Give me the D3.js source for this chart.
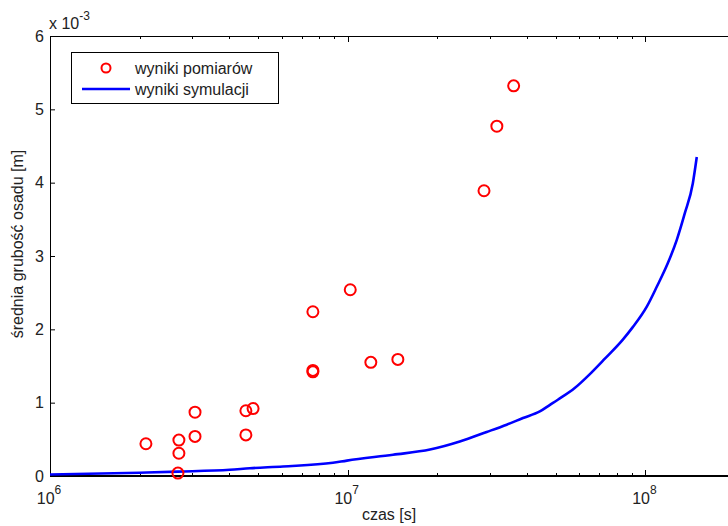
<!DOCTYPE html>
<html>
<head>
<meta charset="utf-8">
<script src="https://cdn.jsdelivr.net/npm/d3@7"></script>
<style>
  body { margin: 0; background: #fff; }
  svg { display: block; font-family: "Liberation Sans", Arial, sans-serif; }
</style>
</head>
<body>
<div id="chart"></div>
<script>
// measured points (time in s, thickness in units of 1e-3 m)
const measTime = [2.10e6, 2.71e6, 2.71e6, 2.69e6, 3.07e6, 3.07e6, 4.55e6, 4.81e6, 4.55e6,
  7.64e6, 7.64e6, 7.64e6, 1.02e7, 1.196e7, 1.474e7, 2.87e7, 3.17e7, 3.61e7];
const measValue = [0.44, 0.49, 0.31, 0.04, 0.87, 0.54, 0.89, 0.92, 0.56,
  2.24, 1.42, 1.44, 2.54, 1.55, 1.59, 3.89, 4.77, 5.32];

// simulation curve
const simTime = [1e6, 2.0e6, 2.69e6, 4.02e6, 4.69e6, 6.06e6, 8.92e6, 9.94e6, 1.42e7, 1.89e7,
  2.38e7, 2.93e7, 3.42e7, 3.88e7, 4.42e7, 4.78e7, 5.08e7, 5.79e7, 6.51e7, 7.31e7, 8.40e7,
  9.07e7, 1.011e8, 1.092e8, 1.189e8, 1.275e8, 1.356e8, 1.443e8, 1.488e8];
const simValue = [0.02, 0.045, 0.06, 0.085, 0.105, 0.13, 0.18, 0.21, 0.29, 0.36,
  0.47, 0.60, 0.70, 0.79, 0.88, 0.97, 1.04, 1.20, 1.39, 1.60, 1.86,
  2.03, 2.31, 2.58, 2.90, 3.22, 3.58, 3.99, 4.35];

const yTicks = [0, 1, 2, 3, 4, 5, 6];
const xMajor = [1e6, 1e7, 1e8];
const xMinor = d3.range(6, 8).flatMap(k => d3.range(2, 10).map(m => m * Math.pow(10, k))).concat([2e8]);

const width = 728, height = 526;
const mLeft = 50, mTop = 36, mRight = 735, mBottom = 476;
const fs = '16px', fsSup = '12px';

const x = d3.scaleLog().domain([1e6, 2e8]).range([mLeft, mRight]);
const y = d3.scaleLinear().domain([0, 6]).range([mBottom, mTop]);

const svg = d3.select('#chart').append('svg')
  .attr('width', width)
  .attr('height', height);

svg.append('defs').append('clipPath').attr('id', 'plot')
  .append('rect').attr('x', mLeft).attr('y', mTop).attr('width', mRight - mLeft).attr('height', mBottom - mTop);

// frame
svg.append('line').attr('x1', mLeft).attr('x2', mRight).attr('y1', mTop + 0.5).attr('y2', mTop + 0.5)
  .attr('stroke', '#000').attr('stroke-width', 1);
svg.append('line').attr('x1', mLeft).attr('x2', mRight).attr('y1', mBottom).attr('y2', mBottom)
  .attr('stroke', '#000').attr('stroke-width', 2);
svg.append('line').attr('x1', mLeft + 0.5).attr('x2', mLeft + 0.5).attr('y1', mTop).attr('y2', mBottom)
  .attr('stroke', '#000').attr('stroke-width', 1);

// x ticks, inward, top and bottom
const tickG = svg.append('g').attr('stroke', '#000').attr('stroke-width', 1);
xMinor.forEach(v => {
  const px = Math.round(x(v)) + 0.5;
  tickG.append('line').attr('x1', px).attr('x2', px).attr('y1', mBottom).attr('y2', mBottom - 3);
  tickG.append('line').attr('x1', px).attr('x2', px).attr('y1', mTop).attr('y2', mTop + 3);
});
xMajor.forEach(v => {
  const px = Math.round(x(v)) + 0.5;
  tickG.append('line').attr('x1', px).attr('x2', px).attr('y1', mBottom).attr('y2', mBottom - 6);
  tickG.append('line').attr('x1', px).attr('x2', px).attr('y1', mTop).attr('y2', mTop + 6);
});

// x tick labels 10^k
xMajor.forEach(v => {
  const t = svg.append('text')
    .attr('x', x(v) - 1)
    .attr('y', 504)
    .attr('text-anchor', 'middle')
    .style('font-size', fs)
    .attr('fill', '#222');
  t.append('tspan').text('10');
  t.append('tspan').attr('dy', -10).style('font-size', fsSup).text(Math.round(Math.log10(v)));
});

// y axis
const yAxis = d3.axisLeft(y).tickValues(yTicks).tickSize(-5).tickPadding(6).tickFormat(d3.format('d'));
const yg = svg.append('g').attr('transform', `translate(${mLeft},0)`).call(yAxis);
yg.select('.domain').remove();
yg.selectAll('text').style('font-size', fs).style('font-family', '"Liberation Sans", Arial, sans-serif').attr('fill', '#222');
yg.selectAll('line').attr('stroke', '#000');

// exponent
const ex = svg.append('text').attr('x', 49).attr('y', 29).style('font-size', fs).attr('fill', '#222');
ex.append('tspan').text('x 10');
ex.append('tspan').attr('dy', -9).style('font-size', fsSup).text('-3');

// axis labels
svg.append('text')
  .attr('x', 389).attr('y', 520)
  .attr('text-anchor', 'middle')
  .style('font-size', fs)
  .attr('fill', '#222')
  .text('czas [s]');

svg.append('text')
  .attr('transform', 'translate(23,244) rotate(-90)')
  .attr('text-anchor', 'middle')
  .style('font-size', fs)
  .attr('fill', '#222')
  .text('średnia grubość osadu [m]');

// simulation line
const plot = svg.append('g').attr('clip-path', 'url(#plot)');
const simData = simTime.map((t, i) => ({ t, v: simValue[i] }));
plot.append('path')
  .datum(simData)
  .attr('fill', 'none')
  .attr('stroke', '#0000ff')
  .attr('stroke-width', 2.6)
  .attr('d', d3.line().x(d => x(d.t)).y(d => y(d.v)).curve(d3.curveMonotoneX));

// measurement points
const measData = measTime.map((t, i) => ({ t, v: measValue[i] }));
svg.append('g').selectAll('circle')
  .data(measData)
  .enter().append('circle')
  .attr('cx', d => x(d.t))
  .attr('cy', d => y(d.v))
  .attr('r', 5.5)
  .attr('fill', 'none')
  .attr('stroke', '#ff0000')
  .attr('stroke-width', 2);

// legend
const lg = svg.append('g');
lg.append('rect')
  .attr('x', 71.5).attr('y', 52.5).attr('width', 207).attr('height', 51)
  .attr('fill', '#fff').attr('stroke', '#000').attr('stroke-width', 1);
lg.append('circle').attr('cx', 106).attr('cy', 68).attr('r', 4.5)
  .attr('fill', 'none').attr('stroke', '#ff0000').attr('stroke-width', 2);
lg.append('line').attr('x1', 82).attr('x2', 130).attr('y1', 89).attr('y2', 89)
  .attr('stroke', '#0000ff').attr('stroke-width', 2.6);
lg.append('text').attr('x', 135).attr('y', 74).style('font-size', fs).attr('fill', '#222').text('wyniki pomiarów');
lg.append('text').attr('x', 135).attr('y', 95).style('font-size', fs).attr('fill', '#222').text('wyniki symulacji');
</script>
</body>
</html>
